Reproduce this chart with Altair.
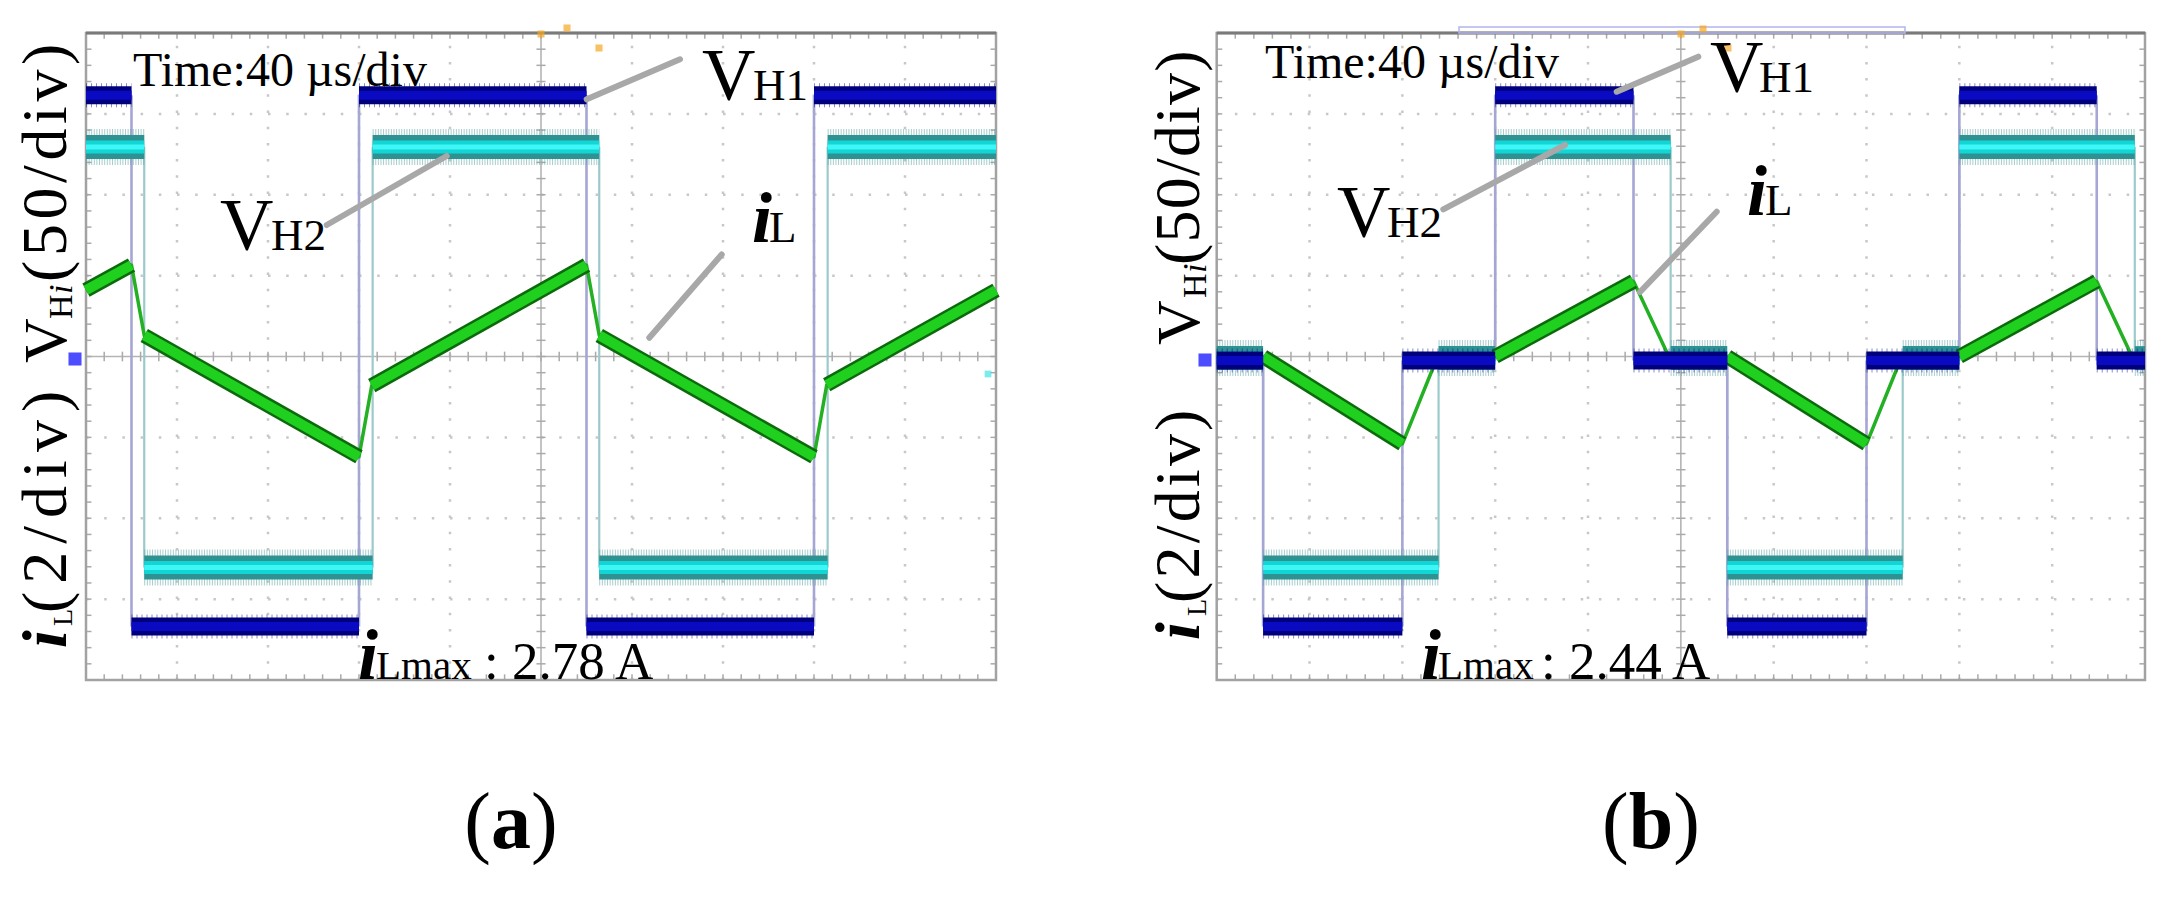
import altair as alt
import numpy as np
import pandas as pd

# ---------------- trace data (time in divisions of 40 µs, amplitude in divisions) ----------------
# panel (a)
VH1_A_T = [0.0, 0.50, 3.00, 5.50, 8.00, 10.0]
VH1_A_LV = [3.23, -3.34, 3.23, -3.34, 3.23]
VH2_A_T = [0.0, 0.64, 3.15, 5.64, 8.15, 10.0]
VH2_A_LV = [2.59, -2.61, 2.59, -2.61, 2.59]
IL_A_T = [0.0, 0.50, 0.64, 3.00, 3.14, 5.50, 5.64, 8.00, 8.14, 10.0]
IL_A_V = [0.82, 1.13, 0.26, -1.24, -0.36, 1.13, 0.26, -1.24, -0.35, 0.82]
# panel (b)
VH1_B_T = [0.0, 0.50, 2.00, 3.00, 4.49, 5.50, 7.00, 8.00, 9.48, 10.0]
VH1_B_LV = [-0.05, -3.34, -0.05, 3.23, -0.05, -3.34, -0.05, 3.23, -0.05]
VH2_B_T = [0.0, 0.50, 2.39, 3.00, 4.89, 5.50, 7.39, 8.00, 9.89, 10.0]
VH2_B_LV = [-0.02, -2.61, -0.02, 2.59, -0.02, -2.61, -0.02, 2.59, -0.02]
IL_B_T = [0.0, 0.50, 2.00, 2.38, 3.00, 4.49, 4.87, 5.50, 7.00, 7.38, 8.00, 9.48, 9.86, 10.0]
IL_B_V = [0.0, 0.0, -1.08, 0.0, 0.0, 0.93, 0.0, 0.0, -1.08, 0.0, 0.0, 0.93, 0.0, 0.0]

# ---------------- texts ----------------
TIME_TEXT = "Time:40 µs/div"
ILMAX_TEXT = {"a": ": 2.78 A", "b": ": 2.44 A"}
CAPTION = {"a": "a", "b": "b"}
YLAB1 = ("V", "H", "i", "(50/div)")
YLAB2 = ("i", "L", "(2/div)")

# ---------------- layout (page pixels, used only to place annotations) ----------------
FONT = "Liberation Serif"
TOP, BOTTOM = 33.0, 680.0
CY = (TOP + BOTTOM) / 2
PDIV = (BOTTOM - TOP) / 8
PANELS = {"a": {"left": 86.0, "width": 910.0}, "b": {"left": 1216.7, "width": 928.3}}
LABEL_SIZE = 64

ANN = {
    "a": dict(time=(133, 86), v1=(702, 100), v1s=(753, 100), v1l=(586.7, 99.3, 680, 59.3),
              v2=(220, 250), v2s=(271, 250), v2l=(326.7, 225, 446.7, 156),
              il=(752, 242), ils=(769, 242), ill=(721.7, 254.5, 649.3, 337.7),
              mi=(358, 679), ms=(376, 679), mv=(484, 679),
              yb=66, ys=72, y1=(363, 319, 294, 282, 4.6), y2=(648, 626, 613, 8.0),
              cap=(511, 848), gnd=(75, 359),
              orange=[(541, 34), (567, 28), (599, 48)], cyan=[(988, 374)], rect=None),
    "b": dict(time=(1265, 78), v1=(1710, 92), v1s=(1759, 92), v1l=(1616.7, 91.7, 1698.3, 56.7),
              v2=(1337, 237), v2s=(1387, 237), v2l=(1443.3, 209.3, 1565, 145),
              il=(1747, 215), ils=(1765, 215), ill=(1716.7, 211.7, 1640, 292),
              mi=(1421, 679), ms=(1438, 679), mv=(1541, 679),
              yb=1199, ys=1206, y1=(345, 298, 273, 265, 1.2), y2=(640, 616, 603, 3.2),
              cap=(1651, 848), gnd=(1205, 360),
              orange=[(1681, 34), (1703, 29), (1728, 48)], cyan=[], rect=(1459, 27, 1905, 33)),
}

ADV = {"(": .333, ")": .333, "5": .5, "0": .5, "2": .5, "/": .278, "d": .5, "i": .278, "v": .5}


def spaced(text, start, size, gap):
    rows, p = [], start
    for ch in text:
        rows.append((ch, p))
        p -= ADV[ch] * size + gap
    return rows


def build_panel(key, vh1_t, vh1_lv, vh2_t, vh2_lv, il_t, il_v):
    P = PANELS[key]
    A = ANN[key]
    left, width = P["left"], P["width"]
    xscale = alt.Scale(domain=[0, 10], range=[left - 8, left - 8 + width], nice=False, zero=False)
    yscale = alt.Scale(domain=[-4, 4], range=[BOTTOM - 8, TOP - 8], nice=False, zero=False)

    def X(f):
        return alt.X(f, type="quantitative", scale=xscale, axis=None)

    def Y(f):
        return alt.Y(f, type="quantitative", scale=yscale, axis=None)

    def dx(px):
        return (px - left) / width * 10

    def dy(py):
        return (CY - py) / PDIV

    def seg_rule(df, **kw):
        return alt.Chart(df).mark_rule(**kw).encode(
            x=X("x0"), x2=alt.X2("x1"), y=Y("y0"), y2=alt.Y2("y1"))

    layers = []
    # ---- graticule ----
    vx = [1, 2, 3, 4, 6, 7, 8, 9]
    hy = [-3, -2, -1, 1, 2, 3]
    vg = pd.DataFrame({"x0": vx, "x1": vx, "y0": [-4] * len(vx), "y1": [4] * len(vx)})
    hg = pd.DataFrame({"x0": [0] * len(hy), "x1": [10] * len(hy), "y0": hy, "y1": hy})
    layers.append(seg_rule(vg, color="#c8c8c8", strokeWidth=2.5, strokeDash=[2.5, 13.7]))
    layers.append(seg_rule(hg, color="#c8c8c8", strokeWidth=2.5, strokeDash=[2.5, 15.7]))
    cl = pd.DataFrame({"x0": [0, 5], "x1": [10, 5], "y0": [0, -4], "y1": [0, 4]})
    layers.append(seg_rule(cl, color="#b4b4b4", strokeWidth=1.6))
    tx = np.round(np.arange(0.2, 10.0, 0.2), 2)
    ty = np.round(np.arange(-3.8, 4.0, 0.2), 2)
    ticks = pd.concat([
        pd.DataFrame({"x0": tx, "x1": tx, "y0": -0.06, "y1": 0.06}),
        pd.DataFrame({"x0": 4.95, "x1": 5.05, "y0": ty, "y1": ty}),
        pd.DataFrame({"x0": tx, "x1": tx, "y0": 4.0, "y1": 3.93}),
        pd.DataFrame({"x0": tx, "x1": tx, "y0": -4.0, "y1": -3.93}),
        pd.DataFrame({"x0": 0.0, "x1": 0.06, "y0": ty, "y1": ty}),
        pd.DataFrame({"x0": 10.0, "x1": 9.94, "y0": ty, "y1": ty}),
    ])
    layers.append(seg_rule(ticks, color="#aaaaaa", strokeWidth=1.5))
    frame = pd.DataFrame({"x0": [0], "x1": [10], "y0": [-4], "y1": [4]})
    layers.append(alt.Chart(frame).mark_rect(fillOpacity=0, stroke="#a2a2a2", strokeWidth=2.5).encode(
        x=X("x0"), x2=alt.X2("x1"), y=Y("y0"), y2=alt.Y2("y1")))
    topbar = pd.DataFrame({"x0": [0], "x1": [10], "y0": [4], "y1": [4]})
    layers.append(seg_rule(topbar, color="#7a7a7a", strokeWidth=3))
    if A["rect"] is not None:
        r = A["rect"]
        rdf = pd.DataFrame({"x0": [dx(r[0])], "x1": [dx(r[2])], "y0": [dy(r[1])], "y1": [dy(r[3])]})
        layers.append(alt.Chart(rdf).mark_rect(fillOpacity=0, stroke="#b4b4ee", strokeWidth=1.5).encode(
            x=X("x0"), x2=alt.X2("x1"), y=Y("y0"), y2=alt.Y2("y1")))

    # ---- traces ----
    def bands(T, LV):
        return pd.DataFrame({"x0": T[:-1], "x1": T[1:], "y0": LV, "y1": LV})

    def edges(T, LV):
        return pd.DataFrame({"x0": T[1:-1], "x1": T[1:-1], "y0": LV[:-1], "y1": LV[1:]})

    b1, b2 = bands(vh1_t, vh1_lv), bands(vh2_t, vh2_lv)
    layers.append(seg_rule(edges(vh2_t, vh2_lv), color="#9ccaca", strokeWidth=2.2))
    layers.append(seg_rule(edges(vh1_t, vh1_lv), color="#a6a6d4", strokeWidth=2.6))
    layers.append(seg_rule(b2, color="#5fa4a4", strokeWidth=36, strokeCap="butt", strokeDash=[1, 1.6], opacity=0.55))
    layers.append(seg_rule(b2, color="#2f9292", strokeWidth=24, strokeCap="butt"))
    layers.append(seg_rule(b2, color="#12d6d6", strokeWidth=13, strokeCap="butt"))
    layers.append(seg_rule(b2, color="#3ff6f6", strokeWidth=5, strokeCap="butt"))

    il = pd.DataFrame({"t": il_t, "v": il_v})
    segs = pd.DataFrame({"x0": il_t[:-1], "x1": il_t[1:], "y0": il_v[:-1], "y1": il_v[1:]})
    slope = (segs.y1 - segs.y0).abs() / (segs.x1 - segs.x0)
    ramps = segs[(slope > 0.2) & (slope < 1.5)]
    layers.append(alt.Chart(il).mark_line(color="#23b023", strokeWidth=3.5, strokeJoin="round").encode(
        x=X("t"), y=Y("v")))
    layers.append(seg_rule(ramps, color="#0c6a0c", strokeWidth=15, strokeCap="butt"))
    layers.append(seg_rule(ramps, color="#1fd01f", strokeWidth=10, strokeCap="butt"))

    layers.append(seg_rule(b1, color="#000080", strokeWidth=24, strokeCap="butt", strokeDash=[1, 4], opacity=0.45))
    layers.append(seg_rule(b1, color="#00007c", strokeWidth=18, strokeCap="butt"))
    layers.append(seg_rule(b1, color="#0a0ac2", strokeWidth=9, strokeCap="butt"))

    # ---- scope markers ----
    g = pd.DataFrame({"x": [dx(A["gnd"][0])], "y": [dy(A["gnd"][1])]})
    layers.append(alt.Chart(g).mark_square(size=170, color="#3a3aff", opacity=0.9).encode(x=X("x"), y=Y("y")))
    if A["cyan"]:
        c = pd.DataFrame({"x": [dx(p[0]) for p in A["cyan"]], "y": [dy(p[1]) for p in A["cyan"]]})
        layers.append(alt.Chart(c).mark_square(size=45, color="#40e6e6").encode(x=X("x"), y=Y("y")))
    o = pd.DataFrame({"x": [dx(p[0]) for p in A["orange"]], "y": [dy(p[1]) for p in A["orange"]]})
    layers.append(alt.Chart(o).mark_square(size=50, color="#f5a623").encode(x=X("x"), y=Y("y")))

    # ---- leader lines ----
    lead = pd.DataFrame([A["v1l"], A["v2l"], A["ill"]], columns=["a", "b", "c", "d"])
    lead = pd.DataFrame({"x0": lead.a.map(dx), "y0": lead.b.map(dy), "x1": lead.c.map(dx), "y1": lead.d.map(dy)})
    layers.append(seg_rule(lead, color="#a8a8a8", strokeWidth=6, strokeCap="round"))

    # ---- horizontal texts ----
    def trow(pos, text, size):
        return {"x": dx(pos[0]), "y": dy(pos[1]), "text": text, "size": size}

    normal = pd.DataFrame([
        trow(A["time"], TIME_TEXT, 48),
        trow(A["v1"], "V", 74), trow(A["v1s"], "H1", 45),
        trow(A["v2"], "V", 74), trow(A["v2s"], "H2", 45),
        trow(A["ils"], "L", 45),
        trow(A["ms"], "Lmax", 41), trow(A["mv"], ILMAX_TEXT[key], 53),
    ])
    ital = pd.DataFrame([trow(A["il"], "i", 72), trow(A["mi"], "i", 72)])

    def text_layer(df, **kw):
        return alt.Chart(df).mark_text(font=FONT, color="black", **kw).encode(
            x=X("x"), y=Y("y"), text="text:N", size=alt.Size("size:Q", scale=None))

    layers.append(text_layer(normal, align="left", baseline="alphabetic"))
    layers.append(text_layer(ital, align="left", baseline="alphabetic", fontStyle="italic", fontWeight="bold"))

    # ---- rotated y labels ----
    yb, ys = A["yb"], A["ys"]
    v, h, hi, p1, g1 = A["y1"]
    i2, l2, p2, g2 = A["y2"]
    rot_n = [(yb, v, YLAB1[0], 62), (ys, h, YLAB1[1], 34), (ys, l2, YLAB2[1], 28)]
    rot_n += [(yb, p, ch, LABEL_SIZE) for ch, p in spaced(YLAB1[3], p1, LABEL_SIZE, g1)]
    rot_n += [(yb, p, ch, LABEL_SIZE) for ch, p in spaced(YLAB2[2], p2, LABEL_SIZE, g2)]
    rot_i = [(ys, hi, YLAB1[2], 34), (yb, i2, YLAB2[0], 64)]
    rn = pd.DataFrame({"x": [dx(r[0]) for r in rot_n], "y": [dy(r[1]) for r in rot_n],
                       "text": [r[2] for r in rot_n], "size": [r[3] for r in rot_n]})
    ri = pd.DataFrame({"x": [dx(r[0]) for r in rot_i], "y": [dy(r[1]) for r in rot_i],
                       "text": [r[2] for r in rot_i], "size": [r[3] for r in rot_i]})
    layers.append(text_layer(rn, align="left", baseline="alphabetic", angle=270))
    layers.append(text_layer(ri[ri.index == 0], align="left", baseline="alphabetic", angle=270, fontStyle="italic"))
    layers.append(text_layer(ri[ri.index == 1], align="left", baseline="alphabetic", angle=270,
                             fontStyle="italic", fontWeight="bold"))

    # ---- caption ----
    cx, cyb = A["cap"]
    half = (0.5 if key == "a" else 0.556) * 80 / 2
    cap_n = pd.DataFrame([trow((cx - half, cyb), "(", 80)])
    cap_r = pd.DataFrame([trow((cx + half, cyb), ")", 80)])
    cap_b = pd.DataFrame([trow((cx, cyb), CAPTION[key], 80)])
    layers.append(text_layer(cap_n, align="right", baseline="alphabetic"))
    layers.append(text_layer(cap_r, align="left", baseline="alphabetic"))
    layers.append(text_layer(cap_b, align="center", baseline="alphabetic", fontWeight="bold"))

    return alt.layer(*layers)


panel_a = build_panel("a", VH1_A_T, VH1_A_LV, VH2_A_T, VH2_A_LV, IL_A_T, IL_A_V)
panel_b = build_panel("b", VH1_B_T, VH1_B_LV, VH2_B_T, VH2_B_LV, IL_B_T, IL_B_V)

chart = (
    alt.layer(panel_a, panel_b)
    .resolve_scale(x="independent", y="independent")
    .properties(width=2160, height=872, padding=0, autosize=alt.AutoSizeParams(type="none"),
                background="white")
    .configure_view(stroke=None)
)

chart.save("out.html", embed_options={"renderer": "svg", "actions": False})
